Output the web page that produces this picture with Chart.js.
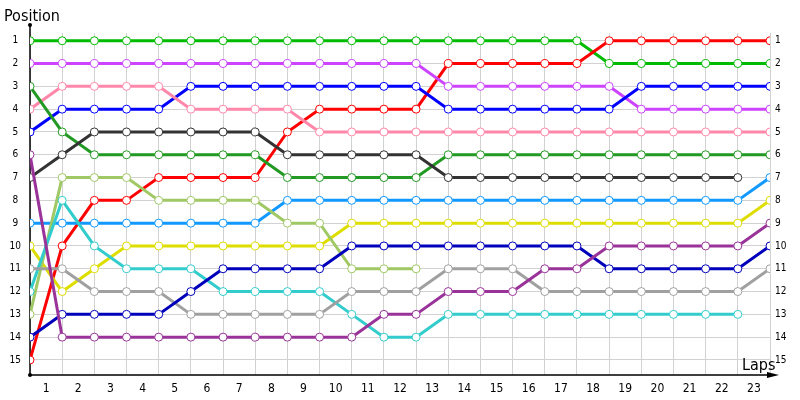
<!DOCTYPE html>
<html>
<head>
<meta charset="utf-8">
<script src="https://cdn.jsdelivr.net/npm/chart.js@4/dist/chart.umd.min.js"></script>
<style>
html,body{margin:0;padding:0;background:#fff;}
#wrap{width:800px;height:400px;position:relative;}
</style>
</head>
<body>
<div id="wrap"><canvas id="c" width="800" height="400"></canvas></div>
<script>
// Laps 0..23
const laps = [0,1,2,3,4,5,6,7,8,9,10,11,12,13,14,15,16,17,18,19,20,21,22,23];
const lapLabels = ['1','2','3','4','5','6','7','8','9','10','11','12','13','14','15','16','17','18','19','20','21','22','23'];
const positions = [1,2,3,4,5,6,7,8,9,10,11,12,13,14,15];

// Position of each driver per lap (null = retired)
const greenDriver     = [1,1,1,1,1,1,1,1,1,1,1,1,1,1,1,1,1,1,2,2,2,2,2,2];
const redDriver       = [15,10,8,8,7,7,7,7,5,4,4,4,4,2,2,2,2,2,1,1,1,1,1,1];
const magentaDriver   = [2,2,2,2,2,2,2,2,2,2,2,2,2,3,3,3,3,3,3,4,4,4,4,4];
const blueDriver      = [5,4,4,4,4,3,3,3,3,3,3,3,3,4,4,4,4,4,4,3,3,3,3,3];
const pinkDriver      = [4,3,3,3,3,4,4,4,4,5,5,5,5,5,5,5,5,5,5,5,5,5,5,5];
const darkGreenDriver = [3,5,6,6,6,6,6,6,7,7,7,7,7,6,6,6,6,6,6,6,6,6,6,6];
const darkGrayDriver  = [7,6,5,5,5,5,5,5,6,6,6,6,6,7,7,7,7,7,7,7,7,7,7,null];
const lightBlueDriver = [9,9,9,9,9,9,9,9,8,8,8,8,8,8,8,8,8,8,8,8,8,8,8,7];
const yellowDriver    = [10,12,11,10,10,10,10,10,10,10,9,9,9,9,9,9,9,9,9,9,9,9,9,8];
const lightGreenDriver= [13,7,7,7,8,8,8,8,9,9,11,11,11,null,null,null,null,null,null,null,null,null,null,null];
const cyanDriver      = [12,8,10,11,11,11,12,12,12,12,13,14,14,13,13,13,13,13,13,13,13,13,13,null];
const grayDriver      = [11,11,12,12,12,13,13,13,13,13,12,12,12,11,11,11,12,12,12,12,12,12,12,11];
const darkBlueDriver  = [14,13,13,13,13,12,11,11,11,11,10,10,10,10,10,10,10,10,11,11,11,11,11,10];
const purpleDriver    = [6,14,14,14,14,14,14,14,14,14,14,13,13,12,12,12,11,11,10,10,10,10,10,9];

const series = [
  {data: purpleDriver,     color: '#993399'},
  {data: darkBlueDriver,   color: '#0000bb'},
  {data: grayDriver,       color: '#a0a0a0'},
  {data: cyanDriver,       color: '#33cccc'},
  {data: lightGreenDriver, color: '#a0c864'},
  {data: yellowDriver,     color: '#dddd00'},
  {data: lightBlueDriver,  color: '#1199ff'},
  {data: darkGrayDriver,   color: '#333333'},
  {data: darkGreenDriver,  color: '#229922'},
  {data: pinkDriver,       color: '#ff88aa'},
  {data: blueDriver,       color: '#0000ff'},
  {data: magentaDriver,    color: '#cc44ff'},
  {data: redDriver,        color: '#ff0000'},
  {data: greenDriver,      color: '#00bb00'}
];

const FONT = '"DejaVu Sans Condensed", "DejaVu Sans", Tahoma, sans-serif';

const decor = {
  id: 'decor',
  beforeDatasetsDraw(chart) {
    const ctx = chart.ctx;
    const a = chart.chartArea;
    ctx.save();
    ctx.strokeStyle = '#000';
    ctx.lineWidth = 1.5;
    ctx.beginPath();
    ctx.moveTo(a.left, a.top - 8);
    ctx.lineTo(a.left, a.bottom);
    ctx.lineTo(a.right + 4, a.bottom);
    ctx.stroke();
    ctx.fillStyle = '#000';
    ctx.beginPath(); ctx.arc(a.left, a.top - 8, 2, 0, Math.PI * 2); ctx.fill();
    ctx.beginPath(); ctx.arc(a.left, a.bottom, 2, 0, Math.PI * 2); ctx.fill();
    ctx.beginPath();
    ctx.moveTo(a.right + 9, a.bottom);
    ctx.lineTo(a.right - 3, a.bottom - 3);
    ctx.lineTo(a.right - 3, a.bottom + 3);
    ctx.closePath();
    ctx.fill();
    ctx.restore();
  },
  afterDraw(chart) {
    const ctx = chart.ctx;
    ctx.save();
    ctx.fillStyle = '#000';
    ctx.font = '16px ' + FONT;
    ctx.textBaseline = 'alphabetic';
    ctx.textAlign = 'left';
    ctx.fillText('Position', 4, 21);
    ctx.fillText('Laps', 742, 370);
    ctx.restore();
  }
};

new Chart(document.getElementById('c'), {
  type: 'line',
  data: {
    labels: laps,
    datasets: series.map(s => ({
      data: s.data,
      borderColor: s.color,
      backgroundColor: s.color,
      borderWidth: 3,
      tension: 0,
      spanGaps: false,
      pointRadius: 4,
      pointBorderWidth: 1,
      pointBackgroundColor: '#ffffff',
      pointBorderColor: s.color,
      fill: false
    }))
  },
  options: {
    responsive: false,
    animation: false,
    events: [],
    layout: {padding: {top: 33, left: 0, right: 0, bottom: 0}},
    plugins: {legend: {display: false}, tooltip: {enabled: false}},
    scales: {
      x: {
        type: 'linear',
        position: 'bottom',
        min: 0, max: 23,
        afterBuildTicks: s => { s.ticks = laps.map(v => ({value: v})); },
        afterFit: s => { s.height = 25; },
        grid: {color: '#d2d2d2', lineWidth: 1, drawTicks: false},
        border: {display: false},
        ticks: {
          padding: 7,
          labelOffset: 16.1,
          maxRotation: 0,
          autoSkip: false,
          color: '#000',
          font: {family: FONT, size: 12},
          callback: (v, i) => (i < lapLabels.length ? lapLabels[i] : '')
        }
      },
      y: {
        type: 'linear',
        position: 'left',
        reverse: true,
        min: 0.66, max: 15.66,
        afterBuildTicks: s => { s.ticks = positions.map(v => ({value: v})); },
        afterFit: s => { s.width = 30; },
        grid: {color: '#d2d2d2', lineWidth: 1, drawTicks: false},
        border: {display: false},
        ticks: {
          crossAlign: 'center',
          padding: 9,
          autoSkip: false,
          color: '#000',
          font: {family: FONT, size: 10},
          callback: v => String(v)
        }
      },
      y2: {
        type: 'linear',
        position: 'right',
        reverse: true,
        min: 0.66, max: 15.66,
        afterBuildTicks: s => { s.ticks = positions.map(v => ({value: v})); },
        afterFit: s => { s.width = 30; },
        grid: {display: false, drawTicks: false},
        border: {display: false},
        ticks: {
          crossAlign: 'near',
          padding: 5,
          autoSkip: false,
          color: '#000',
          font: {family: FONT, size: 10},
          callback: v => String(v)
        }
      }
    }
  },
  plugins: [decor]
});
</script>
</body>
</html>
